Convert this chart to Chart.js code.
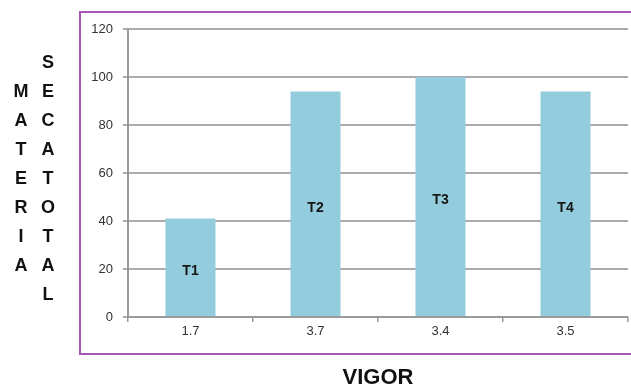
<!DOCTYPE html>
<html>
<head>
<meta charset="utf-8">
<script src="https://cdn.jsdelivr.net/npm/chart.js@4/dist/chart.umd.min.js"></script>
<style>
  html, body { margin: 0; padding: 0; background: #ffffff; }
  #wrap { position: relative; width: 631px; height: 389px; overflow: hidden; }
  #frame {
    position: absolute; left: 79px; top: 11px; width: 600px; height: 344px;
    border: 2px solid #a757b5; border-right: none; box-sizing: border-box;
  }
  #chart { position: absolute; left: 0; top: 0; }
  .stack {
    position: absolute; width: 24px; text-align: center;
    font: bold 18px "Liberation Sans", Arial, sans-serif; line-height: 29px; color: #111;
  }
  #xtitle {
    position: absolute; left: 278px; width: 200px; top: 364px; text-align: center;
    font: bold 22px "Liberation Sans", Arial, sans-serif; color: #111;
  }
</style>
</head>
<body>
<div id="wrap">
  <div id="frame"></div>
  <canvas id="chart" width="631" height="389"></canvas>
  <div class="stack" id="t1" style="left:9px; top:77px;"></div>
  <div class="stack" id="t2" style="left:36px; top:48px;"></div>
  <div id="xtitle"></div>
</div>
<script>
// Vigor class of each treatment on the category axis
const categories = ['1.7', '3.7', '3.4', '3.5'];
// Dry matter per treatment
const materiaSeca = [41, 94, 100, 94];
// Treatment names printed inside the bars
const treatments = ['T1', 'T2', 'T3', 'T4'];
// Value axis ticks
const yTicks = [0, 20, 40, 60, 80, 100, 120];
// Axis titles
const yTitleWords = ['MATERIA', 'SECATOTAL'];
const xTitle = 'VIGOR';

document.getElementById('t1').innerHTML = yTitleWords[0].split('').join('<br>');
document.getElementById('t2').innerHTML = yTitleWords[1].split('').join('<br>');
document.getElementById('xtitle').textContent = xTitle;

const barNames = {
  id: 'barNames',
  afterDatasetsDraw(chart) {
    const ctx = chart.ctx;
    const meta = chart.getDatasetMeta(0);
    ctx.save();
    ctx.font = 'bold 14px "Liberation Sans", Arial, sans-serif';
    ctx.fillStyle = '#161616';
    ctx.textAlign = 'center';
    ctx.textBaseline = 'middle';
    meta.data.forEach((bar, i) => {
      const mid = (bar.y + bar.base) / 2 + 4;
      ctx.fillText(treatments[i], bar.x, mid);
    });
    ctx.restore();
  }
};

new Chart(document.getElementById('chart'), {
  type: 'bar',
  data: {
    labels: categories,
    datasets: [{
      data: materiaSeca,
      backgroundColor: '#93cddd',
      borderWidth: 0,
      categoryPercentage: 1,
      barPercentage: 0.4
    }]
  },
  options: {
    responsive: false,
    animation: false,
    events: [],
    layout: { padding: { left: 0, right: 3, top: 29, bottom: 0 } },
    plugins: { legend: { display: false }, tooltip: { enabled: false } },
    scales: {
      x: {
        afterFit(s) { s.height = 72; },
        grid: { display: true, drawOnChartArea: false, drawTicks: true, tickLength: 5, color: '#999999', lineWidth: 1.5 },
        border: { display: true, color: '#9a9a9a', width: 2 },
        ticks: { color: '#333333', padding: 2, font: { family: '"Liberation Sans", Arial, sans-serif', size: 13 } }
      },
      y: {
        min: 0, max: 120,
        afterFit(s) { s.width = 128; },
        afterBuildTicks(s) { s.ticks = yTicks.map(v => ({ value: v })); },
        grid: { color: '#ababab', lineWidth: 2, tickLength: 5 },
        border: { display: true, color: '#9a9a9a', width: 2 },
        ticks: { color: '#333333', padding: 10, font: { family: '"Liberation Sans", Arial, sans-serif', size: 13 } }
      }
    }
  },
  plugins: [barNames]
});
</script>
</body>
</html>
